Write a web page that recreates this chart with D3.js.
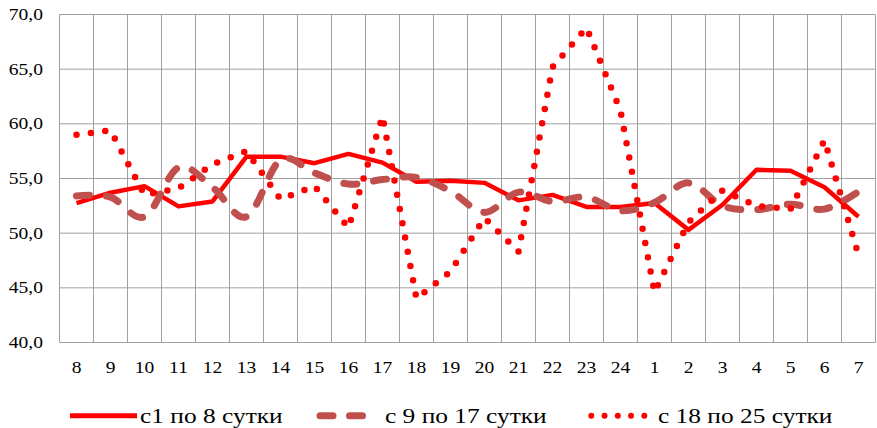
<!DOCTYPE html>
<html>
<head>
<meta charset="utf-8">
<script src="https://cdn.jsdelivr.net/npm/d3@7"></script>
<style>
  body { margin: 0; background: #fff; }
  text { font-family: 'Liberation Serif', 'Times New Roman', serif; fill: #000; }
</style>
</head>
<body>
<svg id="svg-chart" width="877" height="428"></svg>
<script>
const categories = ['8', '9', '10', '11', '12', '13', '14', '15', '16', '17', '18', '19', '20',
  '21', '22', '23', '24', '1', '2', '3', '4', '5', '6', '7'];
const yTicks = [40, 45, 50, 55, 60, 65, 70];
const seriesNames = ['с1 по 8 сутки', 'с 9 по 17 сутки', 'с 18 по 25 сутки'];

const days1to8 = [52.75, 53.7, 54.3, 52.45, 52.9, 57.0, 57.0, 56.4, 57.25, 56.45, 54.7, 54.8,
  54.6, 53.0, 53.5, 52.4, 52.4, 52.75, 50.3, 52.6, 55.8, 55.7, 54.2, 51.5];
const days9to17 = [53.4, 53.3, 51.5, 56.0, 54.2, 51.5, 56.7, 55.5, 54.5, 54.9, 55.1, 53.85,
  51.9, 53.75, 52.9, 53.3, 52.05, 52.8, 54.6, 52.5, 52.15, 52.65, 52.2, 53.8];
const days18to25 = [59.0, 59.4, 53.5, 54.1, 56.3, 57.5, 53.1, 54.3, 50.5, 60.7, 44.0, 46.5,
  51.4, 48.3, 65.2, 68.8, 61.2, 44.6, 51.0, 53.9, 52.5, 52.2, 58.5, 48.0];

const width = 877;
const height = 428;
const margin = { top: 14.5, right: 1.5, bottom: 85.5, left: 59.5 };

const x = d3.scaleBand()
  .domain(categories)
  .range([margin.left, width - margin.right]);

const y = d3.scaleLinear()
  .domain([40, 70])
  .range([height - margin.bottom, margin.top]);

const fmt = d => d3.format('.1f')(d).replace('.', ',');

const svg = d3.select('#svg-chart')
  .attr('viewBox', [0, 0, width, height]);

// grid
const grid = svg.append('g')
  .attr('stroke', '#a0a0a0')
  .attr('stroke-width', 1);

grid.selectAll('line.h')
  .data(yTicks)
  .join('line')
  .attr('class', 'h')
  .attr('x1', margin.left)
  .attr('x2', width - margin.right)
  .attr('y1', d => y(d))
  .attr('y2', d => y(d));

grid.selectAll('line.v')
  .data(categories.map(c => x(c)).concat([width - margin.right]))
  .join('line')
  .attr('class', 'v')
  .attr('x1', d => d)
  .attr('x2', d => d)
  .attr('y1', y(70))
  .attr('y2', y(40));

// axis labels
svg.append('g')
  .attr('font-size', 16)
  .attr('text-anchor', 'end')
  .selectAll('text')
  .data(yTicks)
  .join('text')
  .attr('transform', d => `translate(43,${y(d) + 5.5}) scale(1.22,1)`)
  .text(fmt);

svg.append('g')
  .attr('font-size', 16)
  .attr('text-anchor', 'middle')
  .selectAll('text')
  .data(categories)
  .join('text')
  .attr('transform', d => `translate(${x(d) + x.bandwidth() / 2},372.5) scale(1.22,1)`)
  .text(d => d);

// series
const cx = (d, i) => x(categories[i]) + x.bandwidth() / 2;

const styles = [
  { color: '#ff0000', width: 4.5, dash: null, cap: 'butt', curve: d3.curveLinear },
  { color: '#c0504d', width: 7, dash: '13 17', cap: 'round', curve: d3.curveCardinal.tension(0) },
  { color: '#ff0000', width: 6.5, dash: '0 14.5', cap: 'round', curve: d3.curveLinear }
];

[days1to8, days9to17, days18to25].forEach((values, k) => {
  const s = styles[k];
  svg.append('path')
    .datum(values)
    .attr('fill', 'none')
    .attr('stroke', s.color)
    .attr('stroke-width', s.width)
    .attr('stroke-linecap', s.cap)
    .attr('stroke-linejoin', 'round')
    .attr('stroke-dasharray', s.dash)
    .attr('d', d3.line()
      .curve(s.curve)
      .x(cx)
      .y(d => y(d)));
});

// legend
const legendItems = [
  { x0: 70, x1: 137, tx: 140, dash: null, cap: 'butt', width: 5 },
  { x0: 320, x1: 379, tx: 385, dash: '13 16.5', cap: 'round', width: 7 },
  { x0: 591.3, x1: 645, tx: 658, dash: '0 13.25', cap: 'round', width: 6 }
];

const legend = svg.append('g');

legendItems.forEach((it, k) => {
  legend.append('line')
    .attr('x1', it.x0)
    .attr('x2', it.x1)
    .attr('y1', 415.7)
    .attr('y2', 415.7)
    .attr('stroke', styles[k].color)
    .attr('stroke-width', it.width)
    .attr('stroke-linecap', it.cap)
    .attr('stroke-dasharray', it.dash);

  legend.append('text')
    .attr('font-size', 21)
    .attr('transform', `translate(${it.tx},423) scale(1.21,1)`)
    .text(seriesNames[k]);
});
</script>
</body>
</html>
